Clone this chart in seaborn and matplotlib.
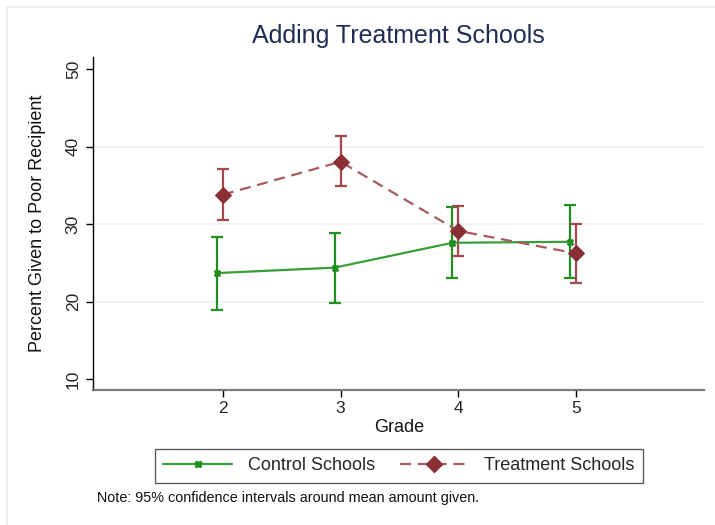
import matplotlib
matplotlib.use("Agg")
import matplotlib.pyplot as plt
from matplotlib.lines import Line2D
from matplotlib.patches import Rectangle
import numpy as np
import pandas as pd
import seaborn as sns

# Mean percent given to the poor recipient, with 95% CI bounds, by grade
grades = [2, 3, 4, 5]
control_mean = [23.67, 24.37, 27.58, 27.71]
control_lo = [18.96, 19.82, 22.99, 22.99]
control_hi = [28.35, 28.82, 32.17, 32.50]
treat_mean = [33.79, 38.04, 29.12, 26.21]
treat_lo = [30.54, 34.86, 25.86, 22.35]
treat_hi = [37.05, 41.34, 32.34, 30.03]
groups = ["Control Schools", "Treatment Schools"]

sns.set_theme(style="white")
plt.rcParams["font.family"] = ["Liberation Sans", "DejaVu Sans"]

green = "#1f8f1f"
green_line = "#3a9d3a"
maroon = "#8b2f36"
maroon_line = "#a85a5e"

# small horizontal dodge so the two groups' intervals don't overlap
dodge = {groups[0]: -0.05, groups[1]: 0.0}

df = pd.DataFrame({
    "grade": grades * 2,
    "mean": control_mean + treat_mean,
    "lo": control_lo + treat_lo,
    "hi": control_hi + treat_hi,
    "group": [groups[0]] * 4 + [groups[1]] * 4,
})
df["xpos"] = df["grade"] + df["group"].map(dodge)

fig = plt.figure(figsize=(7.15, 5.25), dpi=100)
ax = fig.add_axes([0.1305, 0.2566, 0.8545, 0.6354])

# faint outer frame of the graph region
fig.patches.append(Rectangle((7 / 715, -0.01), 1.02, 1 - 7 / 525 + 0.01,
                             transform=fig.transFigure, fill=False,
                             edgecolor="#e4eaec", linewidth=1.2, zorder=0))

ax.set_xlim(0.90, 6.09)
ax.set_ylim(8.54, 51.6)

for yv in [20, 30, 40]:
    ax.axhline(yv, color="#edf2f2", linewidth=1.3, zorder=0)

# confidence intervals
for g, col in [(groups[0], green), (groups[1], "#a3474d")]:
    sub = df[df["group"] == g]
    ax.errorbar(sub["xpos"], sub["mean"],
                yerr=[sub["mean"] - sub["lo"], sub["hi"] - sub["mean"]],
                fmt="none", ecolor=col, elinewidth=1.6, capsize=4.0,
                capthick=1.6, zorder=2)

sns.lineplot(data=df, x="xpos", y="mean", hue="group", style="group",
             palette={groups[0]: green_line, groups[1]: maroon_line},
             dashes={groups[0]: "", groups[1]: (5, 3)},
             markers={groups[0]: "X", groups[1]: "D"},
             linewidth=1.6, legend=False, ax=ax, zorder=3, sort=True)

# recolor markers to the darker series colors
for line, mc, ms in zip(ax.lines[-2:], [green, maroon], [5, 8.5]):
    line.set_markerfacecolor(mc)
    line.set_markeredgecolor(mc)
    line.set_markersize(ms)

sns.despine(ax=ax)
ax.spines["left"].set_color("black")
ax.spines["left"].set_linewidth(1.0)
ax.spines["bottom"].set_color("#7a7a7a")
ax.spines["bottom"].set_linewidth(1.6)

ax.set_xticks(grades)
ax.set_xticklabels([str(g) for g in grades])
ax.set_yticks([10, 20, 30, 40, 50])
ax.set_yticklabels(["10", "20", "30", "40", "50"], rotation=90, va="center")
ax.tick_params(axis="both", which="both", direction="out", length=5,
               width=1.0, color="black", labelsize=12.5, pad=3,
               left=True, bottom=True)
ax.tick_params(axis="y", pad=4)

ax.set_xlabel("Grade", fontsize=13, color="#111111", labelpad=2)
ax.set_ylabel("Percent Given to Poor Recipient", fontsize=13,
              color="#111111", labelpad=14)
ax.set_title("Adding Treatment Schools", fontsize=18, color="#1f2d56",
             pad=10)

handles = [
    Line2D([], [], color=green_line, linewidth=1.6, marker="X",
           markersize=5, markerfacecolor=green, markeredgecolor=green),
    Line2D([], [], color=maroon_line, linewidth=1.6, linestyle=(0, (5, 3)),
           marker="D", markersize=8.5, markerfacecolor=maroon,
           markeredgecolor=maroon),
]
leg = fig.legend(handles, groups, loc="center", ncol=2,
                 bbox_to_anchor=(399 / 715, 1 - 466 / 525),
                 fontsize=13, handlelength=3.8, handletextpad=0.9,
                 columnspacing=1.35, frameon=True, fancybox=False,
                 borderpad=0.45, numpoints=1)
leg.get_frame().set_edgecolor("#333333")
leg.get_frame().set_linewidth(1.0)

fig.text(97 / 715, 1 - 498 / 525,
         "Note: 95% confidence intervals around mean amount given.",
         fontsize=10.4, color="#111111", va="center", ha="left")

fig.savefig("out.png", dpi=100, facecolor="white")
